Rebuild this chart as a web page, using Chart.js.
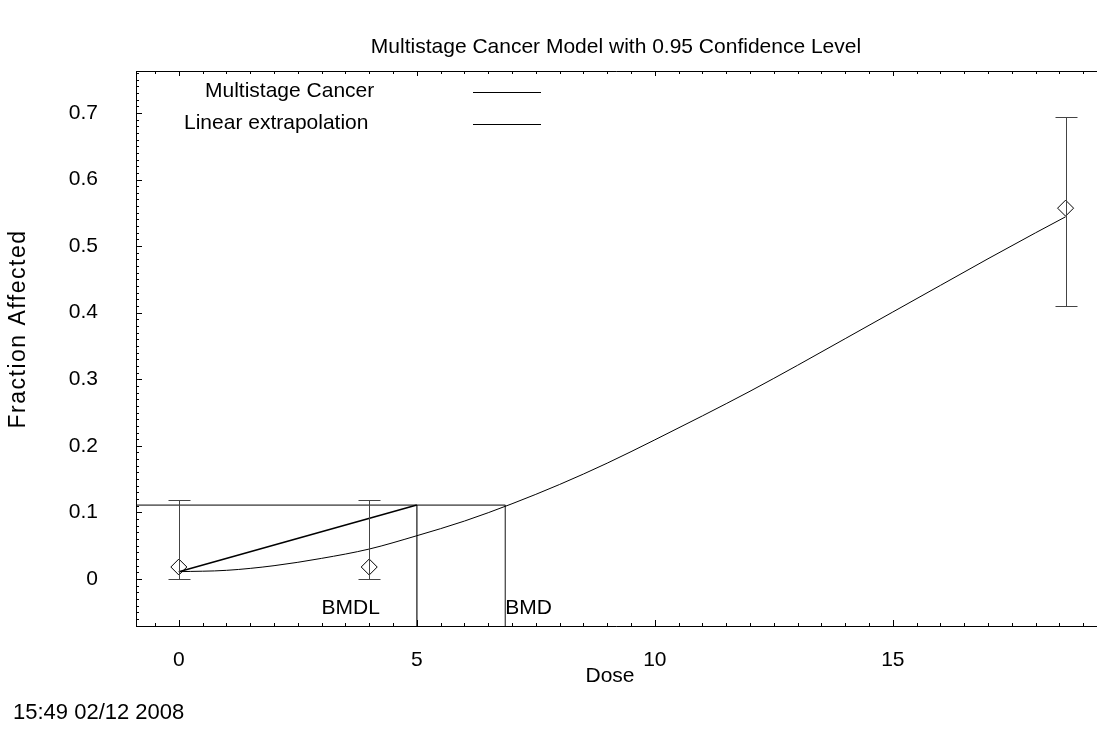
<!DOCTYPE html>
<html lang="en">
<head>
    <meta charset="UTF-8">
    <title>Multistage Cancer Model</title>
    <script src="https://cdn.jsdelivr.net/npm/chart.js"></script>
    <style>
        body { margin: 0; background: #fff; overflow: hidden; }
        canvas { display: block; }
    </style>
</head>
<body>
    <canvas id="bmdChart" width="1097" height="740"></canvas>

    <script>
        // observed dose groups
        const doses = [0, 4, 18.63];
        const observed = [0.018, 0.018, 0.557];
        const lowerCI = [0, 0, 0.410];
        const upperCI = [0.118, 0.118, 0.694];

        // fitted multistage curve
        const curveDose = [0, 1, 2, 3, 4, 5, 6, 7, 8, 9, 10, 11, 12, 13, 14, 15, 16, 17, 18, 18.63];
        const curveFrac = [0.011, 0.013, 0.020, 0.031, 0.045, 0.065, 0.087, 0.113, 0.142, 0.174, 0.209, 0.245, 0.282, 0.321, 0.361, 0.401, 0.441, 0.481, 0.520, 0.544];

        // linear extrapolation from background to BMDL
        const linearDose = [0, 5.0];
        const linearFrac = [0.011, 0.111];

        const bmr = 0.111;
        const bmdl = 5.0;
        const bmd = 6.86;

        const xTicks = [0, 5, 10, 15];
        const yTicks = [0, 0.1, 0.2, 0.3, 0.4, 0.5, 0.6, 0.7];

        const X_MIN = -0.9, X_MAX = 19.29;
        const Y_MIN = -0.0706, Y_MAX = 0.763;
        const FONT = "'Liberation Sans', Arial, sans-serif";

        const pts = (xs, ys) => xs.map((x, i) => ({ x: x, y: ys[i] }));

        const frame = {
            id: 'frame',
            afterDraw(chart) {
                const ctx = chart.ctx;
                const a = chart.chartArea;
                const sx = chart.scales.x, sy = chart.scales.y;
                ctx.save();
                ctx.strokeStyle = '#000';
                ctx.lineWidth = 1;
                ctx.beginPath();
                ctx.moveTo(a.left + 0.5, a.top + 0.5);
                ctx.lineTo(a.right, a.top + 0.5);
                ctx.moveTo(a.left + 0.5, a.top);
                ctx.lineTo(a.left + 0.5, a.bottom + 0.5);
                ctx.lineTo(a.right, a.bottom + 0.5);
                ctx.stroke();

                // inward ticks
                ctx.beginPath();
                for (let v = Math.ceil(X_MIN * 2) / 2; v <= X_MAX; v += 0.5) {
                    const px = Math.round(sx.getPixelForValue(v)) + 0.5;
                    const major = Math.abs(v % 5) < 1e-6;
                    ctx.moveTo(px, a.bottom);
                    ctx.lineTo(px, a.bottom - (major ? 6 : 3));
                    ctx.moveTo(px, a.top);
                    ctx.lineTo(px, a.top + (major ? 5 : 3));
                }
                for (let k = Math.ceil(Y_MIN * 100); k <= Y_MAX * 100; k++) {
                    const py = Math.round(sy.getPixelForValue(k / 100)) + 0.5;
                    const major = k % 10 === 0;
                    ctx.moveTo(a.left, py);
                    ctx.lineTo(a.left + (major ? 6 : 3), py);
                }
                ctx.stroke();

                // error bars
                ctx.strokeStyle = '#444';
                ctx.beginPath();
                doses.forEach((d, i) => {
                    const px = Math.round(sx.getPixelForValue(d)) + 0.5;
                    const lo = Math.round(sy.getPixelForValue(lowerCI[i])) + 0.5;
                    const hi = Math.round(sy.getPixelForValue(upperCI[i])) + 0.5;
                    ctx.moveTo(px, lo); ctx.lineTo(px, hi);
                    ctx.moveTo(px - 11, lo); ctx.lineTo(px + 11, lo);
                    ctx.moveTo(px - 11, hi); ctx.lineTo(px + 11, hi);
                });
                ctx.stroke();

                // BMD / BMDL labels
                ctx.fillStyle = '#000';
                ctx.font = '21px ' + FONT;
                ctx.textBaseline = 'middle';
                const ly = sy.getPixelForValue(-0.044);
                ctx.textAlign = 'right';
                ctx.fillText('BMDL', sx.getPixelForValue(bmdl) - 37, ly);
                ctx.textAlign = 'left';
                ctx.fillText('BMD', sx.getPixelForValue(bmd) + 0, ly);

                // legend
                ctx.fillText('Multistage Cancer', 205, 91);
                ctx.fillText('Linear extrapolation', 184, 123);
                ctx.strokeStyle = '#000';
                ctx.beginPath();
                ctx.moveTo(473, 92.5); ctx.lineTo(541, 92.5);
                ctx.moveTo(473, 124.5); ctx.lineTo(541, 124.5);
                ctx.stroke();

                // titles
                ctx.textAlign = 'center';
                ctx.fillText('Multistage Cancer Model with 0.95 Confidence Level', 616, 47);
                ctx.fillText('Dose', 610, 676);
                ctx.textAlign = 'left';
                ctx.font = '22px ' + FONT;
                ctx.fillText('15:49 02/12 2008', 13, 713);
                ctx.font = '23px ' + FONT;
                ctx.translate(19, 329);
                ctx.rotate(-Math.PI / 2);
                ctx.textAlign = 'center';
                ctx.letterSpacing = '1.5px';
                ctx.fillText('Fraction Affected', 0, 0);
                ctx.restore();
            }
        };

        const ctx = document.getElementById('bmdChart').getContext('2d');
        new Chart(ctx, {
            type: 'scatter',
            data: {
                datasets: [
                    {
                        label: 'Multistage Cancer',
                        data: pts(curveDose, curveFrac),
                        showLine: true,
                        borderColor: '#000',
                        borderWidth: 1,
                        pointRadius: 0,
                        cubicInterpolationMode: 'monotone',
                    },
                    {
                        label: 'Linear extrapolation',
                        data: pts(linearDose, linearFrac),
                        showLine: true,
                        borderColor: '#000',
                        borderWidth: 1.6,
                        pointRadius: 0,
                    },
                    {
                        label: 'BMR',
                        data: [{ x: X_MIN, y: bmr }, { x: bmd, y: bmr }],
                        showLine: true,
                        borderColor: '#000',
                        borderWidth: 1,
                        pointRadius: 0,
                    },
                    {
                        label: 'BMDL',
                        data: [{ x: bmdl, y: bmr }, { x: bmdl, y: Y_MIN }],
                        showLine: true,
                        borderColor: '#555',
                        borderWidth: 1,
                        pointRadius: 0,
                    },
                    {
                        label: 'BMD',
                        data: [{ x: bmd, y: bmr }, { x: bmd, y: Y_MIN }],
                        showLine: true,
                        borderColor: '#555',
                        borderWidth: 1,
                        pointRadius: 0,
                    },
                    {
                        label: 'Observed',
                        data: pts(doses, observed),
                        pointStyle: 'rectRot',
                        pointRadius: 8,
                        pointBorderColor: '#000',
                        pointBackgroundColor: 'rgba(0,0,0,0)',
                        pointBorderWidth: 1,
                    },
                ],
            },
            options: {
                responsive: false,
                animation: false,
                devicePixelRatio: 1,
                layout: { autoPadding: false, padding: { top: 71, left: 0, right: 0, bottom: 0 } },
                plugins: {
                    legend: { display: false },
                    tooltip: { enabled: false },
                },
                scales: {
                    x: {
                        type: 'linear',
                        min: X_MIN,
                        max: X_MAX,
                        afterFit: (s) => { s.height = 114; s.paddingLeft = 0; s.paddingRight = 0; },
                        afterBuildTicks: (s) => { s.ticks = xTicks.map((v) => ({ value: v })); },
                        grid: { display: false, drawTicks: false },
                        border: { display: false },
                        ticks: { color: '#000', font: { family: FONT, size: 21 }, padding: 22, maxRotation: 0 },
                    },
                    y: {
                        type: 'linear',
                        min: Y_MIN,
                        max: Y_MAX,
                        afterFit: (s) => { s.width = 136; s.paddingTop = 0; s.paddingBottom = 0; },
                        afterBuildTicks: (s) => { s.ticks = yTicks.map((v) => ({ value: v })); },
                        grid: { display: false, drawTicks: false },
                        border: { display: false },
                        ticks: { color: '#000', font: { family: FONT, size: 21 }, padding: 38 },
                    },
                },
            },
            plugins: [frame],
        });
    </script>
</body>
</html>
